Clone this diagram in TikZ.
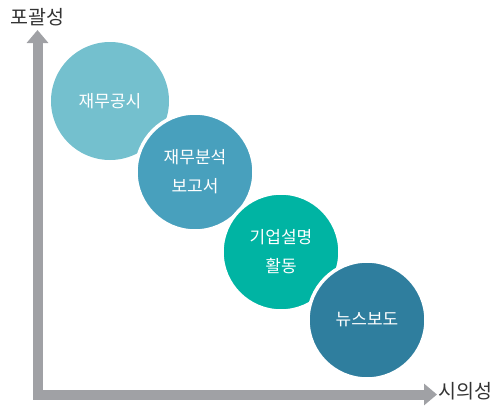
\documentclass[tikz,border=0pt]{standalone}
\usepackage{fontspec}
\setmainfont{Noto Sans CJK KR}
\usetikzlibrary{arrows.meta}
\definecolor{axisgray}{HTML}{A0A1A5}
\definecolor{cA}{HTML}{74C0CE}
\definecolor{cB}{HTML}{48A0BD}
\definecolor{cC}{HTML}{00B4A3}
\definecolor{cD}{HTML}{2F7E9E}
\definecolor{lbl}{HTML}{333333}
\tikzset{
  bubble/.style={circle, minimum size=118pt, inner sep=0pt, draw=white, line width=3.5pt, text=white, font=\fontsize{17}{29}\selectfont, align=center},
  axislabel/.style={text=lbl, font=\fontsize{19.5}{22}\selectfont, inner sep=0pt},
  axisline/.style={draw=axisgray, line width=10pt, line join=miter, {Triangle[length=13pt,width=21pt]}-{Triangle[length=13pt,width=21pt]}}
}
\begin{document}
\begin{tikzpicture}[x=1pt,y=-1pt]
\useasboundingbox (0,0) rectangle (499,410);
\coordinate (ytip) at (37.5,30);
\coordinate (corner) at (37.5,394.5);
\coordinate (xtip) at (437,394.5);
\draw[axisline] (ytip) -- (corner) -- (xtip);
\node[axislabel] (ylab) at (37.5,17) {포괄성};
\node[axislabel] (xlab) at (465.5,391) {시의성};
\node[bubble, fill=cA, draw=none] (n1) at (110,101) {재무공시};
\node[bubble, fill=cB] (n2) at (195,172) {재무분석\\ 보고서};
\node[bubble, fill=cC] (n3) at (281,252) {기업설명\\ 활동};
\node[bubble, fill=cD] (n4) at (367,320) {뉴스보도};
\end{tikzpicture}
\end{document}
